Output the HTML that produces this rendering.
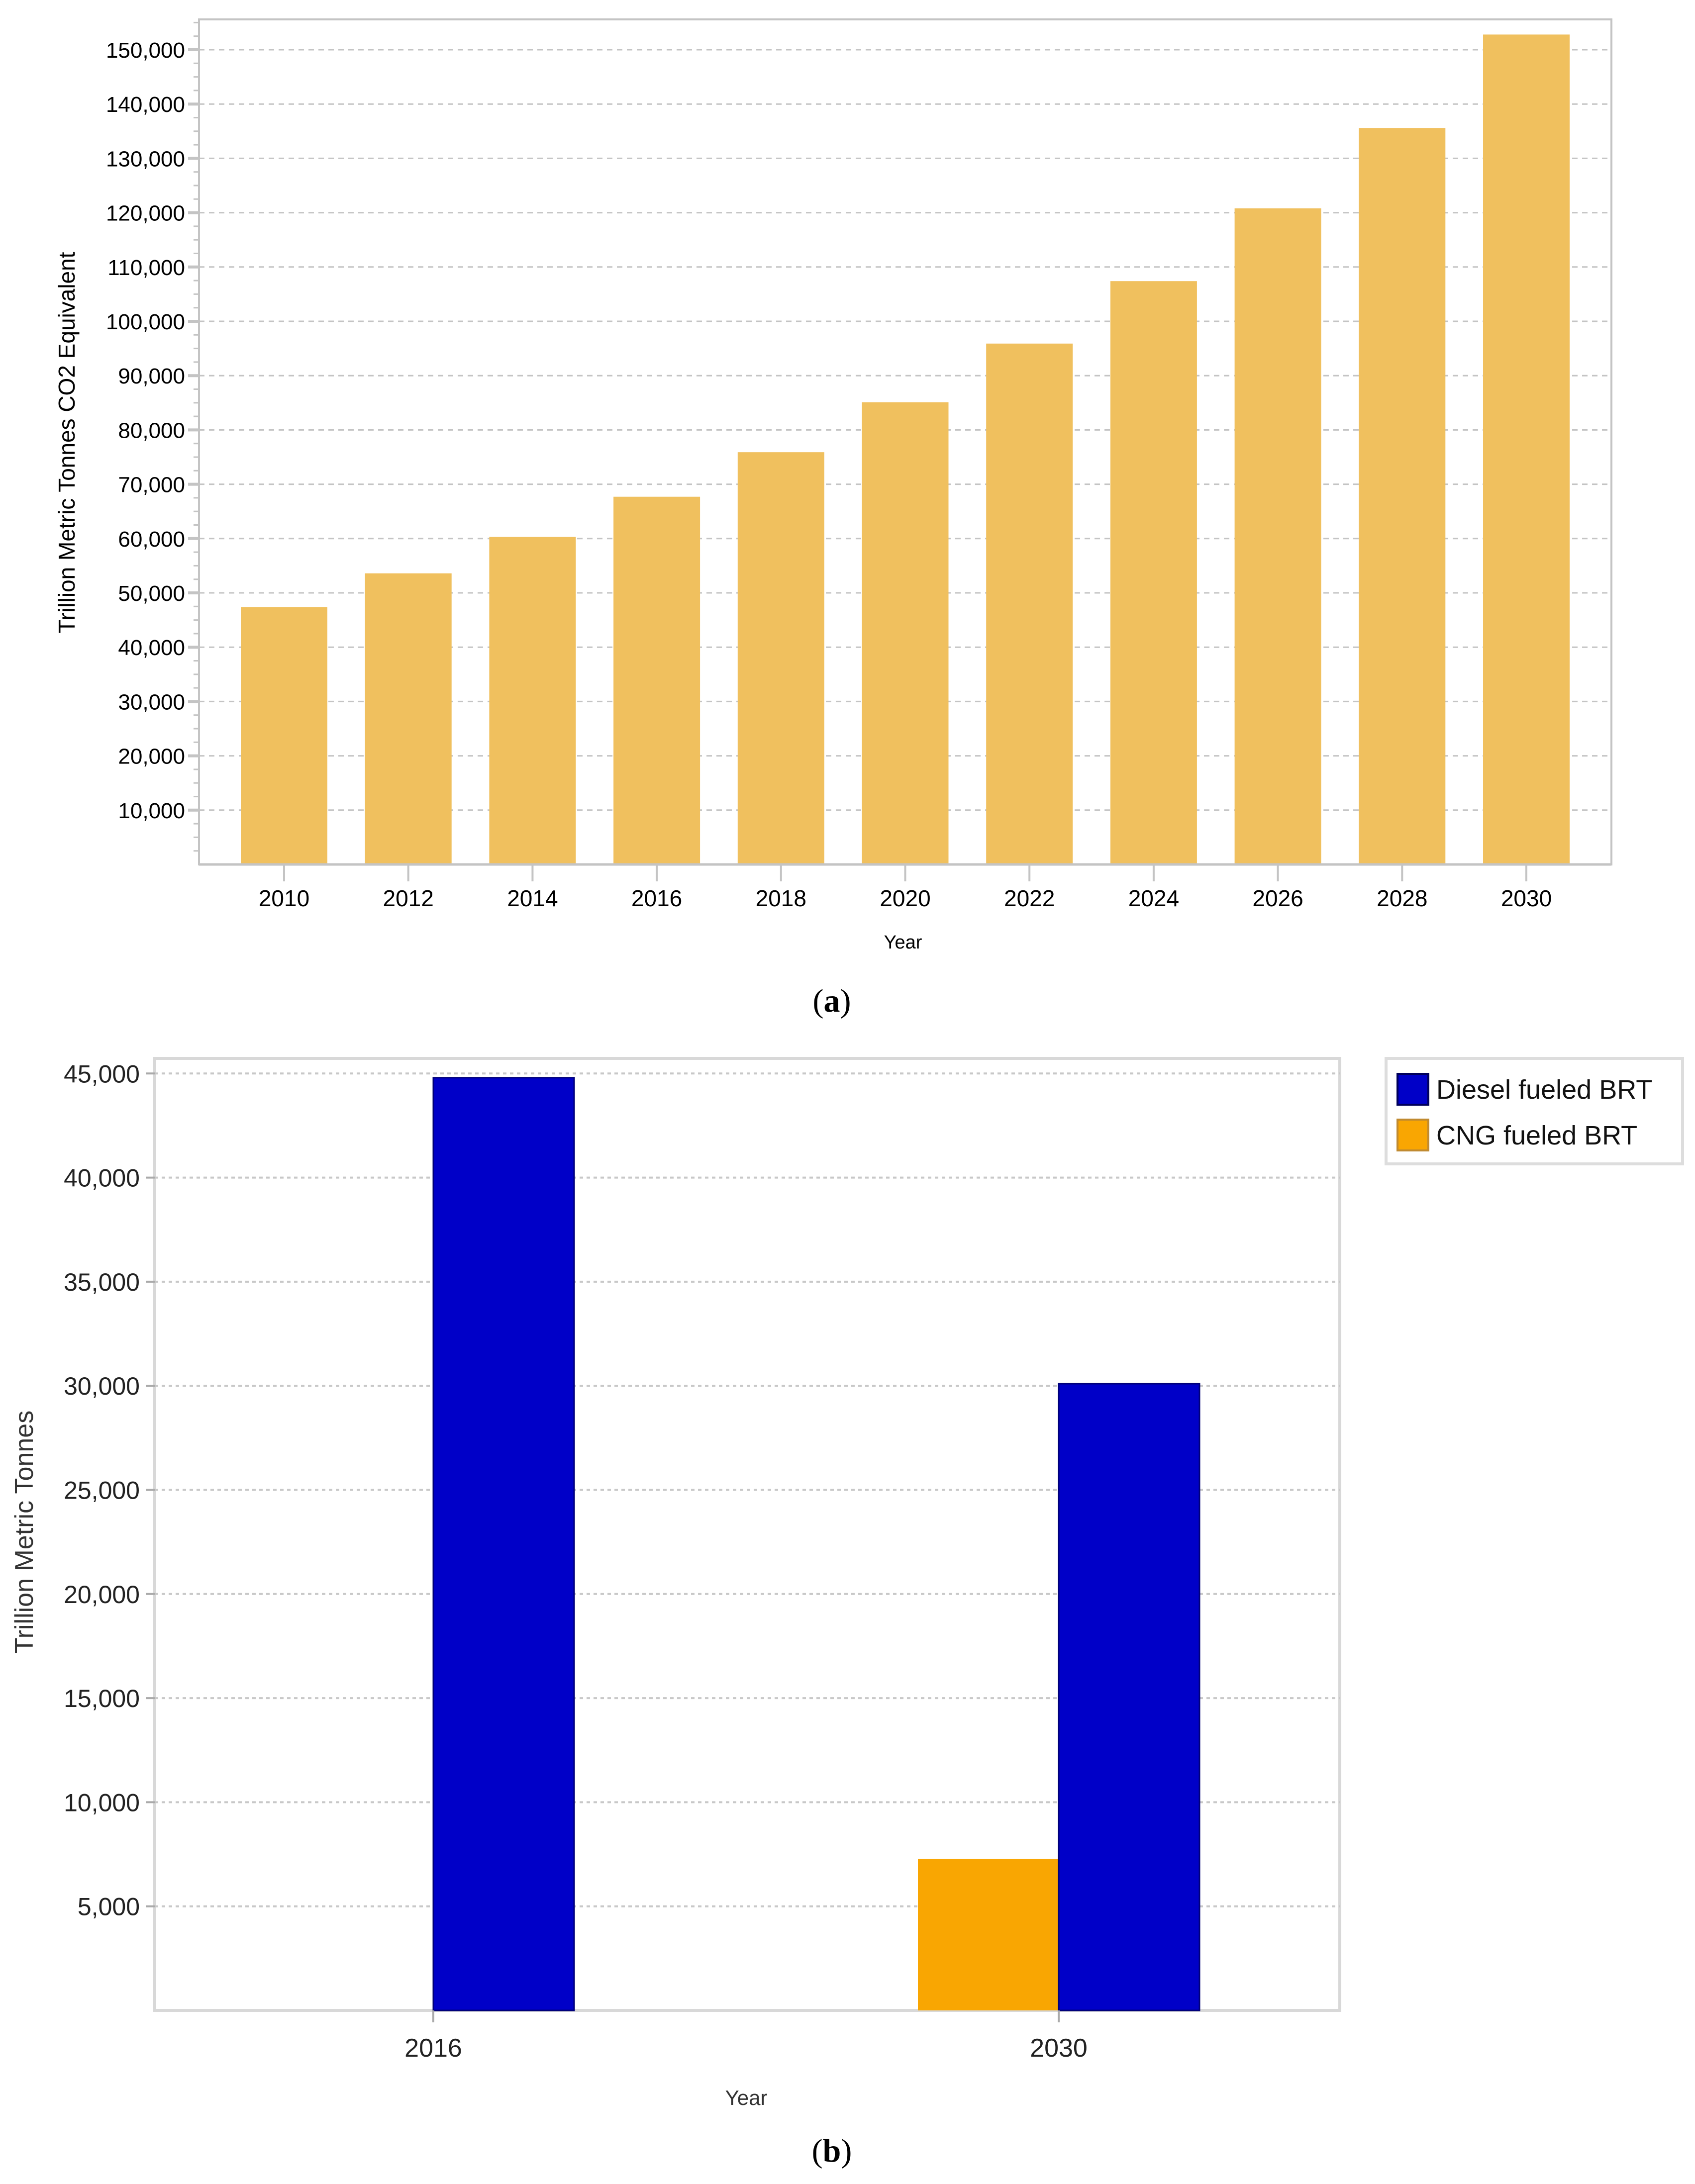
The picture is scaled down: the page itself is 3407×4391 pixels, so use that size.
<!DOCTYPE html>
<html><head><meta charset="utf-8"><style>
html,body{margin:0;padding:0;background:#fff;}
svg{display:block;font-family:"Liberation Sans",sans-serif;}
</style></head><body>
<svg id="c" width="3407" height="4391" viewBox="0 0 3407 4391">
<g id="ga"></g>
<g id="gb"></g>
</svg>
<script>
const yearsA = ["2010","2012","2014","2016","2018","2020","2022","2024","2026","2028","2030"];
const valuesA = [47400,53600,60300,67700,75900,85100,95900,107400,120800,135600,152800];
const ticksA = [10000,20000,30000,40000,50000,60000,70000,80000,90000,100000,110000,120000,130000,140000,150000];
const catsB = ["2016","2030"];
const dieselB = [44800,30100];
const cngB = [0,7270];
const ticksB = [5000,10000,15000,20000,25000,30000,35000,40000,45000];
const seriesNamesB = ["Diesel fueled BRT","CNG fueled BRT"];

const NS="http://www.w3.org/2000/svg";
function mk(parent,tag,attrs,text){const e=document.createElementNS(NS,tag);for(const k in attrs)e.setAttribute(k,attrs[k]);if(text!==undefined)e.textContent=text;parent.appendChild(e);return e;}
const fmt=v=>v.toLocaleString("en-US");

// ---- Chart A ----
const ga=document.getElementById('ga');
const A={l:400,r:3239,t:39,b:1738};
const yA=v=>A.b-(v/10000)*109.2;
const xA=i=>571+i*249.7;
const bwA=174;
let e;
e=mk(ga,'rect',{x:A.l,y:A.t,width:A.r-A.l,height:A.b-A.t,fill:'#fff',stroke:'#c4c4c4','stroke-width':4});

for(let v=2500;v<=157500;v+=2500){const y=yA(v);if(y<A.t)break;
 e=mk(ga,'line',{x1:A.l-11,x2:A.l,y1:y,y2:y,stroke:'#c4c4c4','stroke-width':3});
 }
ticksA.forEach(v=>{const y=yA(v);
 e=mk(ga,'line',{x1:A.l,x2:A.r,y1:y,y2:y,stroke:'#c4c4c4','stroke-width':3,'stroke-dasharray':'11 9'});
 
 e=mk(ga,'line',{x1:A.l-22,x2:A.l,y1:y,y2:y,stroke:'#c4c4c4','stroke-width':6});
 
 e=mk(ga,'text',{x:A.l-28,y:y+16,'text-anchor':'end','font-size':44,fill:'#000'},fmt(v));
 });
yearsA.forEach((yr,i)=>{const cx=xA(i);
 e=mk(ga,'rect',{x:cx-bwA/2,y:yA(valuesA[i]),width:bwA,height:A.b-yA(valuesA[i]),fill:'#f0c05e'});
 
 e=mk(ga,'line',{x1:cx,x2:cx,y1:A.b,y2:A.b+34,stroke:'#c4c4c4','stroke-width':4});
 
 e=mk(ga,'text',{x:cx,y:1822,'text-anchor':'middle','font-size':46,fill:'#000'},yr);
 });
e=mk(ga,'line',{x1:A.l,x2:A.r,y1:A.b,y2:A.b,stroke:'#c4c4c4','stroke-width':5});

e=mk(ga,'text',{x:1815,y:1907,'text-anchor':'middle','font-size':38,fill:'#000'},'Year');

e=mk(ga,'text',{x:0,y:0,'text-anchor':'middle','font-size':46,fill:'#000',transform:'translate(150,890) rotate(-90)'},'Trillion Metric Tonnes CO2 Equivalent');

e=mk(ga,'text',{x:1672,y:2034,'text-anchor':'middle','font-size':66,fill:'#000','font-family':'Liberation Serif, serif'},'');

e.innerHTML='(<tspan font-weight="bold">a</tspan>)';

// ---- Chart B ----
const gb=document.getElementById('gb');
const B={l:311,r:2693,t:2128,b:4042};
const yB=v=>B.b-(v/5000)*209.3;
const xB=i=>871+i*1257;
const bwB=283;
e=mk(gb,'rect',{x:B.l,y:B.t,width:B.r-B.l,height:B.b-B.t,fill:'#fff',stroke:'#d8d8d8','stroke-width':6});

ticksB.forEach(v=>{const y=yB(v);
 e=mk(gb,'line',{x1:B.l,x2:B.r,y1:y,y2:y,stroke:'#c8c8c8','stroke-width':4,'stroke-dasharray':'7 7'});
 
 e=mk(gb,'line',{x1:B.l-18,x2:B.l,y1:y,y2:y,stroke:'#aaa','stroke-width':4});
 
 e=mk(gb,'text',{x:B.l-30,y:y+18,'text-anchor':'end','font-size':50,fill:'#222'},fmt(v));
 });
catsB.forEach((c,i)=>{const cx=xB(i);
 if(cngB[i]>0){e=mk(gb,'rect',{x:cx-bwB,y:yB(cngB[i]),width:bwB,height:B.b-yB(cngB[i]),fill:'#f9a602'});
 }
 e=mk(gb,'rect',{x:cx,y:yB(dieselB[i]),width:bwB,height:B.b-yB(dieselB[i]),fill:'#0000c8',stroke:'#00007a','stroke-width':3});
 
 e=mk(gb,'line',{x1:cx,x2:cx,y1:B.b,y2:B.b+24,stroke:'#aaa','stroke-width':4});
 
 e=mk(gb,'text',{x:cx,y:4135,'text-anchor':'middle','font-size':52,fill:'#222'},c);
 });
e=mk(gb,'text',{x:1500,y:4232,'text-anchor':'middle','font-size':42,fill:'#333'},'Year');

e=mk(gb,'text',{x:0,y:0,'text-anchor':'middle','font-size':52,fill:'#333',transform:'translate(66,3080) rotate(-90)'},'Trillion Metric Tonnes');

// legend
const lg=mk(gb,'g',{});

e=mk(lg,'rect',{x:2786,y:2128,width:596,height:212,fill:'#fff',stroke:'#ddd','stroke-width':6});

const lcol=['#0000c8','#f9a602'];
seriesNamesB.forEach((n,i)=>{const y=2159+i*92;
 e=mk(lg,'rect',{x:2809,y:y,width:62,height:62,fill:lcol[i],stroke:i?'#c08a30':'#00005a','stroke-width':4});
 
 e=mk(lg,'text',{x:2887,y:y+50,'font-size':54,fill:'#111'},n);
 });
e=mk(gb,'text',{x:1672,y:4346,'text-anchor':'middle','font-size':66,fill:'#000','font-family':'Liberation Serif, serif'},'');

e.innerHTML='(<tspan font-weight="bold">b</tspan>)';
</script>
</body></html>
